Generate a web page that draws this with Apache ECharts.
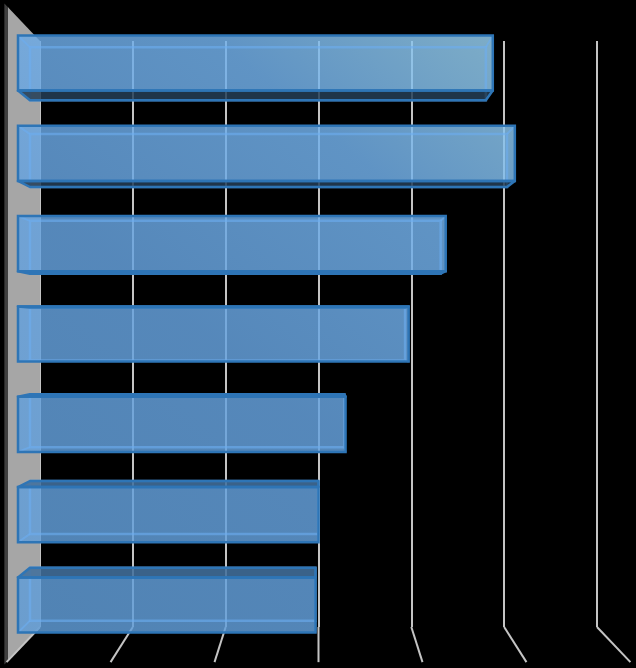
<!DOCTYPE html>
<html>
<head>
<meta charset="utf-8">
<style>html,body{margin:0;padding:0;background:#000}#c{width:636px;height:668px}</style>
<script src="https://cdn.jsdelivr.net/npm/echarts@6/dist/echarts.min.js"></script>
</head>
<body>
<div id="c"></div>
<script>
const categories = ['1', '2', '3', '4', '5', '6', '7'];
const values = [4.74, 4.96, 4.27, 3.90, 3.27, 3.00, 2.97];
const ticks = [0, 1, 2, 3, 4, 5, 6];

// perspective depth factors, relative to the back wall of the plot
const K_FLOOR = 1.12, K_WALL = 1.115, K_FRONT = 1.079, K_BACK = 1.036, K_SIDE = 1.128;
const BAR_RATIO = 0.61;

const chart = echarts.init(document.getElementById('c'), null, {renderer: 'canvas'});

const frontFill = new echarts.graphic.LinearGradient(18, 633, 515, 36, [
  {offset: 0, color: 'rgba(96,156,214,0.84)'},
  {offset: 0.45, color: 'rgba(102,162,222,0.84)'},
  {offset: 0.75, color: 'rgba(114,176,234,0.84)'},
  {offset: 1, color: 'rgba(152,208,238,0.84)'}
], true);

function frame(api) {
  const band = api.size([0, 1])[1];
  const mid = api.coord([3, 3]);
  const project = (p, k) => [mid[0] + (p[0] - mid[0]) * k, mid[1] + (p[1] - mid[1]) * k];
  return {band, mid, project};
}
const poly = (points, style, z2) => ({type: 'polygon', shape: {points}, style, z2: z2 || 0});

function renderWall(params, api) {
  const {band, project} = frame(api);
  const zero = api.coord([0, 0]);
  const last = api.coord([0, categories.length - 1]);
  const top = [zero[0], zero[1] - band / 2], bot = [last[0], last[1] + band / 2];
  return {type: 'group', children: [
    poly([project(top, K_SIDE), project(top, K_WALL), project(bot, K_WALL), project(bot, K_SIDE)],
      {fill: '#404040'}),
    poly([project(top, K_WALL), top, bot, project(bot, K_WALL)], {fill: '#a6a6a6'})
  ]};
}

function renderFloor(params, api) {
  const {band, project} = frame(api);
  const p = api.coord([api.value(0), categories.length - 1]);
  const b = [p[0], p[1] + band / 2];
  const e = project(b, K_FLOOR);
  return {type: 'line', shape: {x1: b[0], y1: b[1], x2: e[0], y2: e[1]},
    style: {stroke: '#c4c4c4', lineWidth: 2}};
}

function renderBar(params, api) {
  const {band, mid, project} = frame(api);
  const v = api.value(0), i = api.value(1);
  const a = api.coord([0, i]), b = api.coord([v, i]);
  const h = band * BAR_RATIO / 2;
  const box = k => {
    const tl = project([a[0], a[1] - h], k), br = project([b[0], b[1] + h], k);
    return {x0: tl[0], y0: tl[1], x1: br[0], y1: br[1]};
  };
  const F = box(K_FRONT), B = box(K_BACK);
  const above = F.y0 + F.y1 < 2 * mid[1];
  const edge = '#2e75b6', light = 'rgba(108,174,240,0.6)';
  const children = [];
  children.push({type: 'rect', shape: {x: F.x0, y: F.y0, width: F.x1 - F.x0, height: F.y1 - F.y0},
    style: {fill: frontFill}, z2: 1});
  children.push({type: 'rect', shape: {x: B.x0, y: B.y0, width: B.x1 - B.x0, height: B.y1 - B.y0},
    style: {fill: 'none', stroke: light, lineWidth: 2.5}, z2: 2});
  const innerY = above ? [F.y0, B.y0] : [F.y1, B.y1];
  children.push({type: 'line', shape: {x1: F.x0, y1: innerY[0], x2: B.x0, y2: innerY[1]},
    style: {stroke: light, lineWidth: 2}, z2: 2});
  children.push({type: 'line', shape: {x1: F.x1, y1: innerY[0], x2: B.x1, y2: innerY[1]},
    style: {stroke: light, lineWidth: 2}, z2: 2});
  const fy = above ? F.y1 : F.y0, by = above ? B.y1 : B.y0;
  children.push(poly([[F.x0, fy], [F.x1, fy], [B.x1, by], [B.x0, by]],
    {fill: above ? 'rgba(36,62,86,0.86)' : 'rgba(66,112,156,0.88)', stroke: edge, lineWidth: 2.5, lineJoin: 'round'}, 3));
  children.push({type: 'rect', shape: {x: F.x0, y: F.y0, width: F.x1 - F.x0, height: F.y1 - F.y0},
    style: {fill: 'none', stroke: edge, lineWidth: 2.5}, z2: 4});
  return {type: 'group', children};
}

chart.setOption({
  animation: false,
  backgroundColor: '#000',
  grid: {left: 40, right: 39, top: 41, bottom: 41},
  xAxis: {
    type: 'value', min: 0, max: 6, interval: 1,
    axisLine: {show: false}, axisTick: {show: false}, axisLabel: {show: false},
    splitLine: {show: true, lineStyle: {color: '#c4c4c4', width: 2}}
  },
  yAxis: {
    type: 'category', inverse: true, data: categories,
    axisLine: {show: false}, axisTick: {show: false}, axisLabel: {show: false},
    splitLine: {show: false}
  },
  series: [
    {type: 'custom', name: 'wall', z: 0, clip: false, silent: true, renderItem: renderWall,
      encode: {x: 0, y: 1}, data: [[0, 0]]},
    {type: 'custom', name: 'floor', z: 1, clip: false, silent: true, renderItem: renderFloor,
      encode: {x: 0}, data: ticks.map(t => [t])},
    {type: 'custom', name: 'bars', z: 3, clip: false, silent: true, renderItem: renderBar,
      encode: {x: 0, y: 1}, data: values.map((v, i) => [v, i])}
  ]
});
</script>
</body>
</html>
